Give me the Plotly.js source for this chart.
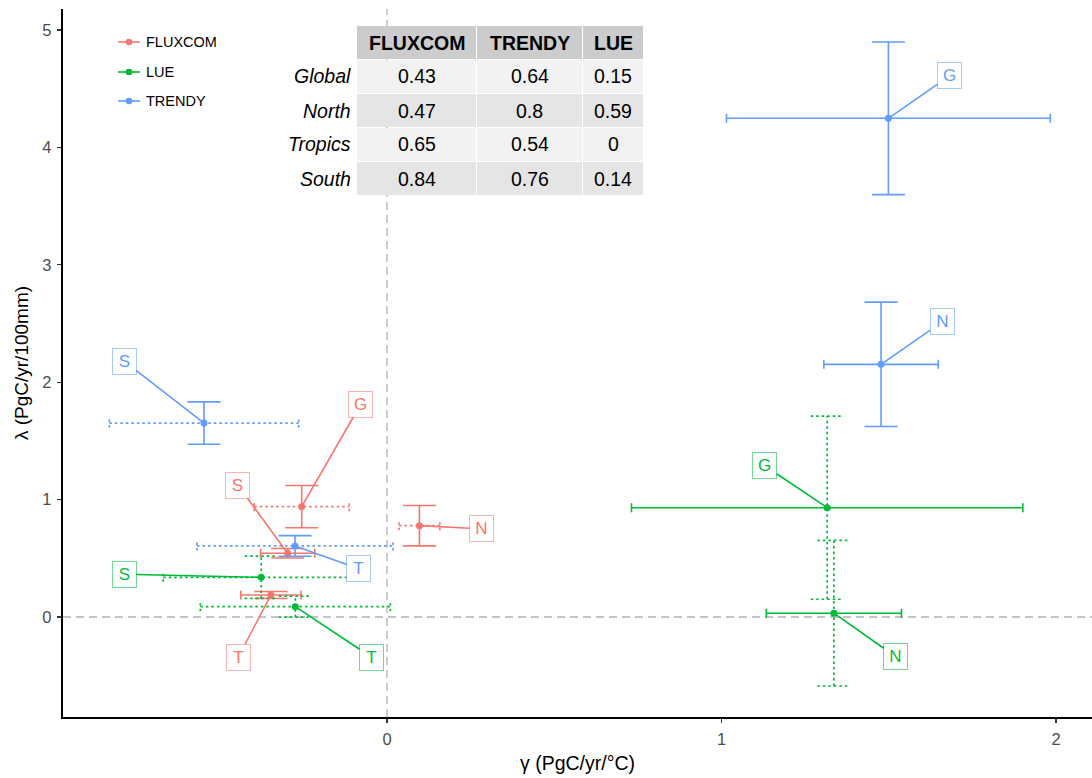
<!DOCTYPE html>
<html><head><meta charset="utf-8">
<script src="https://cdn.plot.ly/plotly-3.0.1.min.js"></script>
<style>html,body{margin:0;padding:0;background:#fff}#chart{width:1092px;height:778px}</style>
</head><body><div id="chart"></div>
<script>
// ---------------- data ----------------
const regions = ['G', 'N', 'S', 'T'];

const fluxcomGamma      = [-0.255, 0.097, -0.297, -0.347];
const fluxcomLambda     = [0.940, 0.778, 0.543, 0.187];
const fluxcomGammaErr   = [0.142, 0.061, 0.081, 0.090];
const fluxcomLambdaErr  = [0.180, 0.172, 0.040, 0.030];
const fluxcomGammaSig   = [false, false, true, true];
const fluxcomLambdaSig  = [true, true, true, true];

const lueGamma          = [1.316, 1.336, -0.376, -0.274];
const lueLambda         = [0.931, 0.032, 0.338, 0.088];
const lueGammaErr       = [0.585, 0.202, 0.293, 0.284];
const lueLambdaErr      = [0.780, 0.620, 0.180, 0.090];
const lueGammaSig       = [true, true, false, false];
const lueLambdaSig      = [false, false, false, false];

const trendyGamma       = [1.499, 1.477, -0.547, -0.275];
const trendyLambda      = [4.248, 2.152, 1.652, 0.605];
const trendyGammaErr    = [0.484, 0.171, 0.283, 0.293];
const trendyLambdaErr   = [0.650, 0.530, 0.180, 0.088];
const trendyGammaSig    = [true, true, false, false];
const trendyLambdaSig   = [true, true, true, true];

const tableColumns = ['FLUXCOM', 'TRENDY', 'LUE'];
const tableRegions = ['Global', 'North', 'Tropics', 'South'];
const tableFluxcom = ['0.43', '0.47', '0.65', '0.84'];
const tableTrendy  = ['0.64', '0.8', '0.54', '0.76'];
const tableLue     = ['0.15', '0.59', '0', '0.14'];

// ---------------- layout config ----------------
const labelPlacement = {
  FLUXCOM: [[-0.079, 1.81], [0.283, 0.75], [-0.446, 1.124], [-0.445, -0.343]],
  LUE:     [[1.129, 1.289], [1.521, -0.338], [-0.786, 0.364], [-0.046, -0.343]],
  TRENDY:  [[1.682, 4.611], [1.660, 2.515], [-0.786, 2.18], [-0.084, 0.41]]
};

const FONT = 'Liberation Sans, Arial, Helvetica, sans-serif';
const W = 1092, H = 778;
const M = {l: 63, r: 0, t: 9, b: 61};
const plotW = W - M.l - M.r, plotH = H - M.t - M.b;
const xRange = [-0.9686, 2.1077];
const yRange = [-0.852, 5.179];
const pxPerX = plotW / (xRange[1] - xRange[0]);
const pxPerY = plotH / (yRange[1] - yRange[0]);
const px = v => (v - M.l) / plotW;          // pixel -> paper x
const py = v => (H - M.b - v) / plotH;      // pixel -> paper y

const series = [
  {name: 'FLUXCOM', color: '#F8766D', border: 'rgba(248,118,109,0.55)',
   x: fluxcomGamma, y: fluxcomLambda, ex: fluxcomGammaErr, ey: fluxcomLambdaErr,
   sx: fluxcomGammaSig, sy: fluxcomLambdaSig},
  {name: 'LUE', color: '#00BA38', border: 'rgba(0,186,56,0.55)',
   x: lueGamma, y: lueLambda, ex: lueGammaErr, ey: lueLambdaErr,
   sx: lueGammaSig, sy: lueLambdaSig},
  {name: 'TRENDY', color: '#619CFF', border: 'rgba(97,156,255,0.55)',
   x: trendyGamma, y: trendyLambda, ex: trendyGammaErr, ey: trendyLambdaErr,
   sx: trendyGammaSig, sy: trendyLambdaSig}
];

const capV = 16.5;  // px half-width of caps on vertical bars
const capH = 4.5;   // px half-height of caps on horizontal bars

const traces = [];
const annotations = [];
const shapes = [];

series.forEach(s => {
  // dotted (non-significant) error bars built from data
  const dx = [], dy = [];
  const cx = capV / pxPerX, cy = capH / pxPerY;
  s.x.forEach((xv, i) => {
    const yv = s.y[i];
    if (!s.sx[i]) {
      const e = s.ex[i];
      dx.push(xv - e, xv + e, null, xv - e, xv - e, null, xv + e, xv + e, null);
      dy.push(yv, yv, null, yv - cy, yv + cy, null, yv - cy, yv + cy, null);
    }
    if (!s.sy[i]) {
      const e = s.ey[i];
      dx.push(xv, xv, null, xv - cx, xv + cx, null, xv - cx, xv + cx, null);
      dy.push(yv - e, yv + e, null, yv - e, yv - e, null, yv + e, yv + e, null);
    }
  });
  if (dx.length) {
    traces.push({type: 'scatter', mode: 'lines', x: dx, y: dy, showlegend: false,
      hoverinfo: 'skip', line: {color: s.color, width: 1.7, dash: '2.5px,3px'}});
  }
  // points with solid error bars
  traces.push({
    type: 'scatter', mode: 'markers', name: s.name, showlegend: false,
    x: s.x, y: s.y, text: regions,
    marker: {color: s.color, size: 7},
    error_x: {type: 'data', symmetric: true, array: s.ex.map((e, i) => s.sx[i] ? e : NaN),
      color: s.color, thickness: 1.6, width: capH},
    error_y: {type: 'data', symmetric: true, array: s.ey.map((e, i) => s.sy[i] ? e : NaN),
      color: s.color, thickness: 1.6, width: capV}
  });
  // labels
  regions.forEach((r, i) => {
    const lp = labelPlacement[s.name][i];
    annotations.push({
      x: s.x[i], y: s.y[i], xref: 'x', yref: 'y',
      ax: lp[0], ay: lp[1], axref: 'x', ayref: 'y',
      text: r, showarrow: true, arrowhead: 0, arrowwidth: 1.6, arrowcolor: s.color,
      standoff: 0, startstandoff: 0,
      font: {family: FONT, size: 17, color: s.color},
      bgcolor: '#ffffff', bordercolor: s.border, borderwidth: 1, borderpad: 2,
      width: 19, height: 21, align: 'center', valign: 'middle'
    });
  });
});

// zero reference lines
shapes.push({type: 'line', xref: 'x', yref: 'paper', x0: 0, x1: 0, y0: 0, y1: 1,
  layer: 'below', line: {color: '#b3b3b3', width: 1.3, dash: '8px,5px'}});
shapes.push({type: 'line', xref: 'paper', yref: 'y', x0: 0, x1: 1, y0: 0, y1: 0,
  layer: 'below', line: {color: '#b3b3b3', width: 1.3, dash: '8px,5px'}});

// manual legend
const legendY = [42, 72, 101];
series.forEach((s, i) => {
  const yy = py(legendY[i]);
  shapes.push({type: 'line', xref: 'paper', yref: 'paper', x0: px(118), x1: px(140), y0: yy, y1: yy,
    layer: 'above', line: {color: s.color, width: 1.6}});
  shapes.push({type: 'circle', xref: 'paper', yref: 'paper', xsizemode: 'pixel', ysizemode: 'pixel',
    xanchor: px(129), yanchor: yy, x0: -3.3, x1: 3.3, y0: -3.3, y1: 3.3,
    layer: 'above', fillcolor: s.color, line: {width: 0}});
  annotations.push({xref: 'paper', yref: 'paper', x: px(145), y: yy, xanchor: 'left', yanchor: 'middle',
    text: s.name, showarrow: false, borderpad: 0, font: {family: FONT, size: 14.5, color: '#000'}});
});

// table
const colBounds = [[357, 476], [477, 582], [583, 643]];
const headTop = 26, rowH = 33, rowPitch = 34;
const tableCols = [tableFluxcom, tableTrendy, tableLue];
const rect = (x0, x1, y0, y1, fill) => shapes.push({type: 'rect', xref: 'paper', yref: 'paper',
  x0: px(x0), x1: px(x1), y0: py(y1), y1: py(y0), fillcolor: fill, line: {width: 0}, layer: 'above'});
const txt = (x, y, t, anchor, size) => annotations.push({xref: 'paper', yref: 'paper', x: px(x), y: py(y),
  xanchor: anchor, yanchor: 'middle', text: t, showarrow: false, borderpad: 0,
  font: {family: FONT, size: size, color: '#000'}});
tableColumns.forEach((c, j) => {
  const [a, b] = colBounds[j];
  rect(a, b, headTop, headTop + rowH, '#cccccc');
  txt((a + b) / 2, headTop + rowH / 2, '<b>' + c + '</b>', 'center', 19.5);
});
tableRegions.forEach((r, i) => {
  const top = headTop + rowPitch * (i + 1);
  txt(352, top + rowH / 2, '<i>' + r + '</i>', 'right', 19.5);
  tableCols.forEach((col, j) => {
    const [a, b] = colBounds[j];
    rect(a, b, top, top + rowH, i % 2 === 0 ? '#f2f2f2' : '#e5e5e5');
    txt((a + b) / 2, top + rowH / 2, col[i], 'center', 19.5);
  });
});

const axisCommon = {
  showgrid: false, zeroline: false, showline: true, linecolor: '#000', linewidth: 1.8,
  ticks: 'outside', ticklen: 4.5, tickwidth: 1.2, tickcolor: '#333',
  tickfont: {family: FONT, size: 16.5, color: '#4d4d4d'}
};

const layout = {
  width: W, height: H, margin: M,
  paper_bgcolor: '#fff', plot_bgcolor: '#fff',
  font: {family: FONT},
  showlegend: false,
  xaxis: Object.assign({}, axisCommon, {range: xRange, tickvals: [0, 1, 2], ticklabelstandoff: 2,
    title: {text: 'γ (PgC/yr/°C)', font: {family: FONT, size: 19.5, color: '#000'}, standoff: 9}}),
  yaxis: Object.assign({}, axisCommon, {range: yRange, tickvals: [0, 1, 2, 3, 4, 5], ticklabelstandoff: 2,
    title: {text: 'λ (PgC/yr/100mm)', font: {family: FONT, size: 19, color: '#000'}, standoff: 8}}),
  shapes: shapes,
  annotations: annotations
};

Plotly.newPlot('chart', traces, layout, {displayModeBar: false, staticPlot: true});
</script>
</body></html>
